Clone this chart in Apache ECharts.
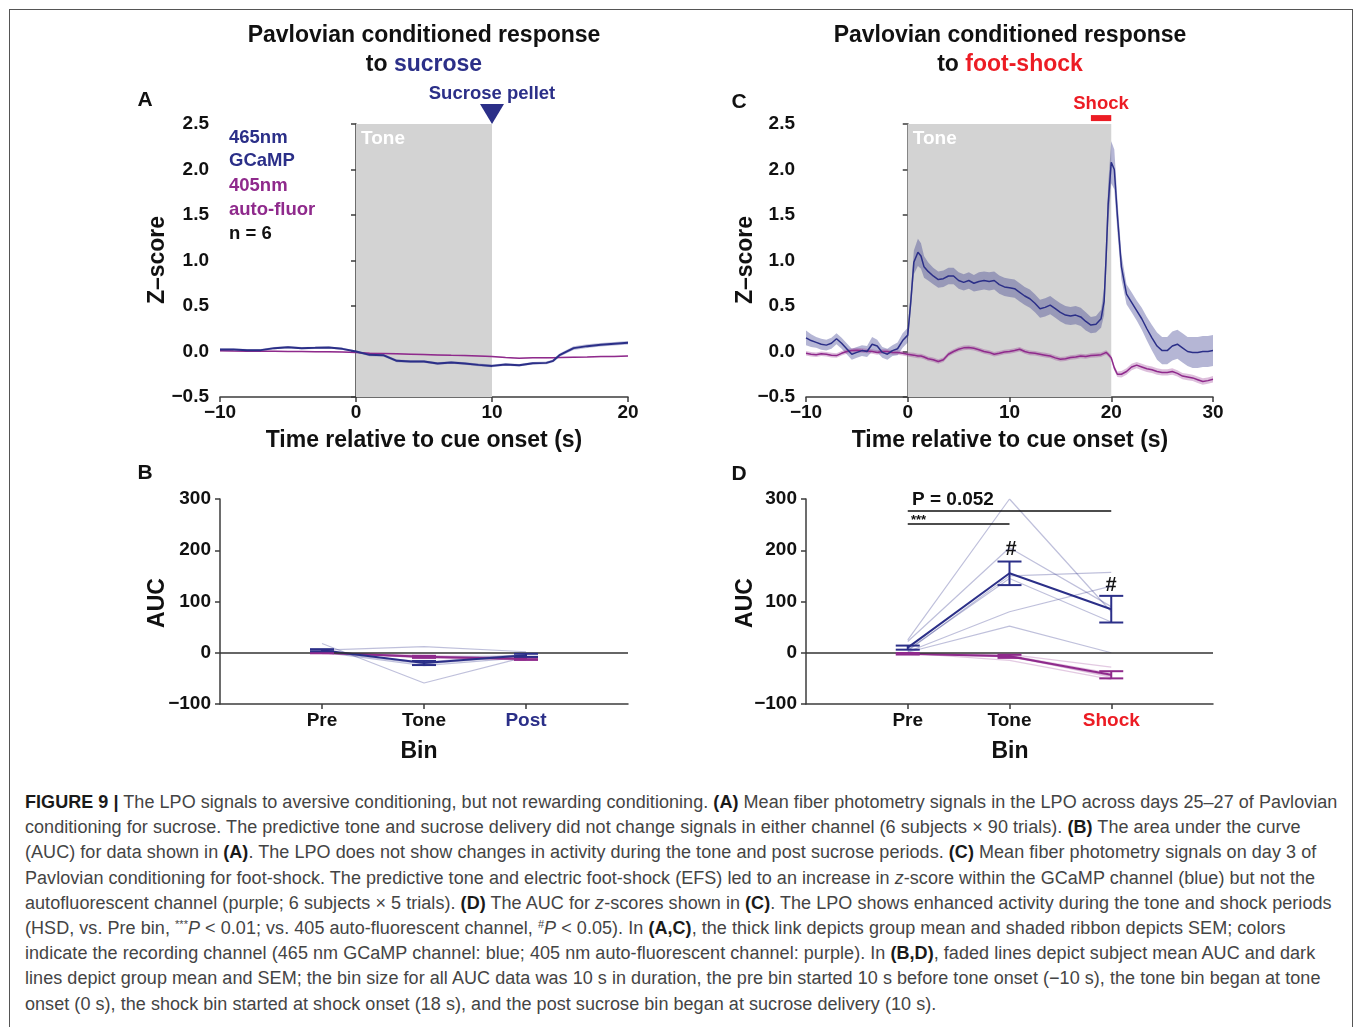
<!DOCTYPE html>
<html>
<head>
<meta charset="utf-8">
<script src="https://cdn.jsdelivr.net/npm/echarts@6/dist/echarts.min.js"></script>
<style>
  html, body { margin: 0; padding: 0; background: #fff; }
  body { width: 1354px; height: 1027px; position: relative; overflow: hidden; }
  #frame { position: absolute; left: 9px; top: 9px; width: 1344px; height: 1100px; border: 1px solid #555; box-sizing: border-box; }
  #chart { position: absolute; left: 0; top: 0; width: 1354px; height: 785px; }
  #caption {
    position: absolute; left: 25px; top: 790px;
    font-family: "Liberation Sans", Arial, sans-serif; font-size: 18px; line-height: 25.2px;
    color: #444; white-space: nowrap; letter-spacing: 0.05px;
  }
  #caption b { color: #1a1a1a; }
  #caption sup { font-size: 11px; line-height: 0; vertical-align: 6px; }
</style>
</head>
<body>
<div id="frame"></div>
<div id="chart"></div>
<div id="caption">
<b>FIGURE 9</b> <b>|</b> The LPO signals to aversive conditioning, but not rewarding conditioning. <b>(A)</b> Mean fiber photometry signals in the LPO across days 25–27 of Pavlovian<br>
conditioning for sucrose. The predictive tone and sucrose delivery did not change signals in either channel (6 subjects × 90 trials). <b>(B)</b> The area under the curve<br>
(AUC) for data shown in <b>(A)</b>. The LPO does not show changes in activity during the tone and post sucrose periods. <b>(C)</b> Mean fiber photometry signals on day 3 of<br>
Pavlovian conditioning for foot-shock. The predictive tone and electric foot-shock (EFS) led to an increase in <i>z</i>-score within the GCaMP channel (blue) but not the<br>
autofluorescent channel (purple; 6 subjects × 5 trials). <b>(D)</b> The AUC for <i>z</i>-scores shown in <b>(C)</b>. The LPO shows enhanced activity during the tone and shock periods<br>
(HSD, vs. Pre bin, <sup>***</sup><i>P</i> &lt; 0.01; vs. 405 auto-fluorescent channel, <sup>#</sup><i>P</i> &lt; 0.05). In <b>(A,C)</b>, the thick link depicts group mean and shaded ribbon depicts SEM; colors<br>
indicate the recording channel (465 nm GCaMP channel: blue; 405 nm auto-fluorescent channel: purple). In <b>(B,D)</b>, faded lines depict subject mean AUC and dark<br>
lines depict group mean and SEM; the bin size for all AUC data was 10 s in duration, the pre bin started 10 s before tone onset (−10 s), the tone bin began at tone<br>
onset (0 s), the shock bin started at shock onset (18 s), and the post sucrose bin began at sucrose delivery (10 s).
</div>
<script>
// ---- panel A: sucrose, z-score traces ----
const timeA = [-10,-9,-8,-7,-6,-5,-4,-3,-2,-1,0,1,2,3,4,5,6,7,8,9,10,11,12,13,14,14.5,15,16,17,18,19,20];
const gcampA = [0.022,0.022,0.015,0.015,0.037,0.048,0.037,0.040,0.044,0.029,0.0,-0.037,-0.040,-0.103,-0.110,-0.110,-0.132,-0.121,-0.132,-0.147,-0.158,-0.143,-0.151,-0.129,-0.125,-0.103,-0.037,0.037,0.059,0.074,0.085,0.096];
const gcampSemA = [0.012,0.012,0.012,0.012,0.012,0.012,0.012,0.012,0.012,0.012,0.012,0.014,0.014,0.014,0.014,0.014,0.014,0.014,0.014,0.014,0.014,0.014,0.014,0.014,0.014,0.016,0.018,0.02,0.02,0.02,0.02,0.02];
const isoA = [0.007,0.005,0.004,0.002,0.002,0,0,-0.002,-0.004,-0.006,-0.01,-0.018,-0.022,-0.026,-0.03,-0.034,-0.038,-0.042,-0.045,-0.05,-0.056,-0.066,-0.074,-0.068,-0.07,-0.068,-0.066,-0.062,-0.06,-0.056,-0.054,-0.05];
const isoSemA = [0.006,0.006,0.006,0.006,0.006,0.006,0.006,0.006,0.006,0.006,0.006,0.006,0.006,0.006,0.006,0.006,0.006,0.006,0.006,0.006,0.006,0.006,0.006,0.006,0.006,0.006,0.006,0.006,0.006,0.006,0.006,0.006];

// ---- panel C: foot-shock, z-score traces ----
const timeC = [-10,-9.5,-9,-8.5,-8,-7.5,-7,-6.5,-6,-5.5,-5,-4.5,-4,-3.5,-3,-2.5,-2,-1.5,-1,-0.5,
  0,0.3,0.6,1,1.3,1.6,
  2,2.5,3,3.5,4,4.5,5,5.5,6,6.5,7,7.5,8,8.5,9,9.5,10,10.5,11,11.5,12,12.5,13,13.5,14,14.5,15,15.5,16,16.5,17,17.5,18,18.5,19,
  19.3,19.5,19.7,20,20.3,20.6,
  21,21.5,22,22.5,23,23.5,24,24.5,25,25.5,26,26.5,27,27.5,28,28.5,29,29.5,30];
const gcampC = [0.15,0.12,0.10,0.08,0.07,0.09,0.14,0.09,0.03,-0.03,-0.01,0.01,0.0,0.08,0.06,-0.01,-0.03,0.01,0.03,0.12,
  0.18,0.55,0.98,1.09,1.05,0.93,
  0.88,0.83,0.79,0.80,0.83,0.83,0.78,0.76,0.78,0.75,0.77,0.78,0.77,0.78,0.735,0.71,0.70,0.69,0.65,0.61,0.58,0.53,0.47,0.485,0.51,0.47,0.43,0.40,0.39,0.40,0.38,0.33,0.29,0.30,0.36,
  0.55,1.05,1.62,2.08,2.0,1.5,
  0.93,0.63,0.54,0.45,0.36,0.25,0.15,0.06,0.01,0.01,0.06,0.08,0.04,0.0,-0.01,-0.01,0.0,0.0,0.01];
const gcampSemC = [0.08,0.07,0.06,0.06,0.06,0.06,0.06,0.06,0.06,0.06,0.06,0.06,0.06,0.08,0.07,0.06,0.06,0.06,0.07,0.08,
  0.08,0.1,0.13,0.15,0.14,0.12,
  0.1,0.09,0.09,0.09,0.09,0.09,0.09,0.09,0.09,0.09,0.1,0.1,0.1,0.1,0.1,0.1,0.1,0.1,0.1,0.1,0.1,0.1,0.1,0.1,0.1,0.1,0.1,0.1,0.1,0.1,0.1,0.1,0.09,0.09,0.1,
  0.15,0.2,0.22,0.23,0.22,0.18,
  0.14,0.11,0.11,0.11,0.12,0.13,0.14,0.15,0.15,0.15,0.16,0.16,0.16,0.16,0.17,0.17,0.17,0.17,0.17];
const isoC = [-0.02,-0.03,-0.035,-0.025,-0.03,-0.04,-0.045,-0.02,0.0,0.01,0.015,0.01,0.005,0.0,-0.01,0.0,0.0,-0.01,-0.01,-0.02,
  -0.03,-0.035,-0.04,-0.05,-0.05,-0.06,
  -0.08,-0.09,-0.11,-0.09,-0.03,0.0,0.025,0.04,0.045,0.035,0.02,0.0,-0.01,-0.03,-0.02,-0.005,0.0,0.01,0.025,0.0,-0.015,-0.02,-0.03,-0.04,-0.05,-0.07,-0.085,-0.08,-0.065,-0.06,-0.05,-0.055,-0.045,-0.04,-0.035,
  -0.02,-0.01,-0.03,-0.07,-0.18,-0.25,
  -0.25,-0.22,-0.17,-0.15,-0.17,-0.19,-0.2,-0.22,-0.23,-0.23,-0.22,-0.24,-0.27,-0.28,-0.29,-0.31,-0.33,-0.32,-0.305];
const isoSemC = [0.025,0.025,0.025,0.025,0.025,0.025,0.025,0.025,0.025,0.025,0.025,0.025,0.025,0.025,0.025,0.025,0.025,0.025,0.025,0.025,
  0.025,0.025,0.025,0.025,0.025,0.025,
  0.025,0.025,0.025,0.025,0.025,0.025,0.025,0.025,0.025,0.025,0.025,0.025,0.025,0.025,0.025,0.025,0.025,0.025,0.025,0.025,0.025,0.025,0.025,0.025,0.025,0.025,0.025,0.025,0.025,0.025,0.025,0.025,0.025,0.025,0.025,
  0.025,0.025,0.025,0.025,0.03,0.03,
  0.035,0.035,0.035,0.035,0.035,0.035,0.035,0.035,0.035,0.035,0.035,0.035,0.035,0.035,0.035,0.035,0.035,0.035,0.035];

// ---- panel B: AUC sucrose ----
const binsB = ['Pre', 'Tone', 'Post'];
const gcampSubjB = [[18,-59,-8],[5,12,2],[2,-22,-6],[1,-25,-9],[2,-18,-3],[2,-8,-6]];
const isoSubjB = [[0,-5,-10],[-2,-8,-14],[1,-10,-12],[0,-6,-15],[-1,-9,-11],[2,-10,-10]];
const gcampMeanB = [5, -20, -5];
const gcampSemB = [2, 4, 3];
const isoMeanB = [0, -8, -12];
const isoSemB = [1, 2, 2];

// ---- panel D: AUC foot-shock ----
const binsD = ['Pre', 'Tone', 'Shock'];
const gcampSubjD = [[25,300,80],[22,205,90],[4,150,157],[6,145,60],[2,80,130],[1,52,0]];
const isoSubjD = [[-1,-3,-28],[-2,-5,-40],[-3,-8,-45],[-2,-6,-48],[-1,-15,-52],[-3,-5,-45]];
const gcampMeanD = [10, 155, 85];
const gcampSemD = [4, 23, 26];
const isoMeanD = [-2, -7, -43];
const isoSemD = [1.5, 3, 7];

const zTicks = [-0.5, 2.5, 0.5];   // min, max, step
const aucTicks = [-100, 300, 100];

const F = '"Liberation Sans", Arial, Helvetica, sans-serif';
const BLUE = '#2b2f88';
const PURPLE = '#8f2a8c';
const RED = '#ec1c24';
const AX = '#3d3d3d';

function minus(s) { return String(s).replace('-', '\u2212'); }
function pairs(t, v) { return t.map((x, i) => [x, v[i]]); }

function timeAxis(gi, max) {
  return {
    gridIndex: gi, type: 'value', min: -10, max: max, interval: 10,
    axisLine: { show: true, onZero: false, lineStyle: { color: AX, width: 1.5 } },
    axisTick: { show: true, length: 5, lineStyle: { color: AX, width: 1.5 } },
    axisLabel: { color: '#111', fontFamily: F, fontWeight: 'bold', fontSize: 19, margin: 6, formatter: v => minus(v) },
    splitLine: { show: false }
  };
}
function zAxis(gi) {
  return {
    gridIndex: gi, type: 'value', min: zTicks[0], max: zTicks[1], interval: zTicks[2],
    axisLine: { show: true, lineStyle: { color: AX, width: 1.5 } },
    axisTick: { show: true, length: 5, lineStyle: { color: AX, width: 1.5 } },
    axisLabel: { color: '#111', fontFamily: F, fontWeight: 'bold', fontSize: 19, margin: 11, formatter: v => minus(v.toFixed(1)) },
    splitLine: { show: false }
  };
}
function binAxis(gi, bins, colors) {
  return {
    gridIndex: gi, type: 'category', boundaryGap: false, data: [''].concat(bins, ['']),
    axisLine: { show: true, onZero: false, lineStyle: { color: AX, width: 1.5 } },
    axisTick: { show: true, length: 5, interval: (i, v) => v !== '', lineStyle: { color: AX, width: 1.5 } },
    axisLabel: { interval: 0, fontFamily: F, fontWeight: 'bold', fontSize: 19, margin: 7,
      color: (v) => colors[v] || '#111' },
    splitLine: { show: false }
  };
}
function aucAxis(gi) {
  return {
    gridIndex: gi, type: 'value', min: aucTicks[0], max: aucTicks[1], interval: aucTicks[2],
    axisLine: { show: true, lineStyle: { color: AX, width: 1.5 } },
    axisTick: { show: true, length: 5, lineStyle: { color: AX, width: 1.5 } },
    axisLabel: { color: '#111', fontFamily: F, fontWeight: 'bold', fontSize: 19, margin: 9, formatter: v => minus(v) },
    splitLine: { show: false }
  };
}

// shaded SEM ribbon drawn as one polygon through the axis scales
function band(ai, t, mean, sem, color) {
  return {
    type: 'custom', xAxisIndex: ai, yAxisIndex: ai, z: 2, silent: true, clip: true,
    encode: { x: 0, y: [1, 2] },
    data: t.map((x, i) => [x, mean[i] - sem[i], mean[i] + sem[i]]),
    renderItem: function (params, api) {
      if (params.dataIndex !== 0) return null;
      const up = [], lo = [];
      for (let i = 0; i < t.length; i++) {
        up.push(api.coord([t[i], mean[i] + sem[i]]));
        lo.push(api.coord([t[i], mean[i] - sem[i]]));
      }
      return { type: 'polygon', shape: { points: up.concat(lo.reverse()) }, style: { fill: color } };
    }
  };
}
function trace(ai, t, v, color, w, extra) {
  return Object.assign({
    type: 'line', xAxisIndex: ai, yAxisIndex: ai, z: 3, silent: true, symbol: 'none',
    data: pairs(t, v), lineStyle: { color: color, width: w }
  }, extra || {});
}
function subjLines(ai, subj, color) {
  return subj.map(s => ({
    type: 'line', xAxisIndex: ai, yAxisIndex: ai, z: 2, silent: true, symbol: 'none',
    data: s.map((v, i) => [i + 1, v]), lineStyle: { color: color, width: 1.2 }
  }));
}
function meanLine(ai, mean, color) {
  return {
    type: 'line', xAxisIndex: ai, yAxisIndex: ai, z: 4, silent: true, symbol: 'none',
    data: mean.map((v, i) => [i + 1, v]), lineStyle: { color: color, width: 2 }
  };
}
function errBars(ai, mean, sem, color) {
  return {
    type: 'custom', xAxisIndex: ai, yAxisIndex: ai, z: 5, silent: true,
    encode: { x: 0, y: [1, 2] },
    data: mean.map((m, i) => [i + 1, m - sem[i], m + sem[i]]),
    renderItem: function (params, api) {
      const lo = api.coord([api.value(0), api.value(1)]);
      const hi = api.coord([api.value(0), api.value(2)]);
      const h = 12, st = { stroke: color, lineWidth: 2 };
      return { type: 'group', children: [
        { type: 'line', shape: { x1: lo[0], y1: lo[1], x2: hi[0], y2: hi[1] }, style: st },
        { type: 'line', shape: { x1: lo[0] - h, y1: lo[1], x2: lo[0] + h, y2: lo[1] }, style: st },
        { type: 'line', shape: { x1: hi[0] - h, y1: hi[1], x2: hi[0] + h, y2: hi[1] }, style: st }
      ] };
    }
  };
}

const toneArea = (end) => ({
  silent: true,
  itemStyle: { color: '#d3d3d3' },
  label: { show: true, position: 'insideTopLeft', distance: 5, color: '#fff', fontFamily: F, fontWeight: 'bold', fontSize: 19 },
  data: [[{ xAxis: 0, name: 'Tone' }, { xAxis: end }]]
});
const zeroLine = {
  silent: true, symbol: ['none', 'none'], label: { show: false },
  lineStyle: { color: '#333', width: 1.5, type: 'solid' },
  data: [{ yAxis: 0 }]
};

function txt(x, y, text, size, color, align) {
  return {
    type: 'text', x: x, y: y, silent: true,
    style: { text: text, fontFamily: F, fontWeight: 'bold', fontSize: size, fill: color || '#111',
      align: align || 'center', verticalAlign: 'middle' }
  };
}
function vtxt(x, y, text) {
  return Object.assign(txt(x, y, text, 23, '#111'), { rotation: Math.PI / 2 });
}
function titleTo(x, y, word, color) {
  return {
    type: 'text', x: x, y: y, silent: true,
    style: { text: '{k|to }{c|' + word + '}', align: 'center', verticalAlign: 'middle',
      rich: { k: { fontFamily: F, fontWeight: 'bold', fontSize: 23, fill: '#111' },
              c: { fontFamily: F, fontWeight: 'bold', fontSize: 23, fill: color } } }
  };
}

const chart = echarts.init(document.getElementById('chart'));

const option = {
  animation: false,
  grid: [
    { left: 220, top: 124, width: 408, height: 273 },
    { left: 806, top: 124, width: 407, height: 273 },
    { left: 220, top: 499, width: 408, height: 205 },
    { left: 806, top: 499, width: 407, height: 205 }
  ],
  xAxis: [timeAxis(0, 20), timeAxis(1, 30), binAxis(2, binsB, { Post: BLUE }), binAxis(3, binsD, { Shock: RED })],
  yAxis: [zAxis(0), zAxis(1), aucAxis(2), aucAxis(3)],
  series: [
    // A
    band(0, timeA, gcampA, gcampSemA, 'rgba(43,47,136,0.3)'),
    band(0, timeA, isoA, isoSemA, 'rgba(143,42,140,0.25)'),
    trace(0, timeA, isoA, PURPLE, 1.5),
    trace(0, timeA, gcampA, BLUE, 2, {
      markArea: toneArea(10),
      markPoint: {
        silent: true, symbol: 'path://M0,0L20,0L10,18Z', symbolSize: [24, 20], symbolOffset: [0, '-50%'],
        itemStyle: { color: BLUE }, label: { show: false }, data: [{ coord: [10, 2.5] }]
      }
    }),
    // C
    band(1, timeC, gcampC, gcampSemC, 'rgba(43,47,136,0.35)'),
    band(1, timeC, isoC, isoSemC, 'rgba(143,42,140,0.3)'),
    trace(1, timeC, isoC, PURPLE, 1.5),
    trace(1, timeC, gcampC, BLUE, 1.5, { markArea: toneArea(20) }),
    { type: 'line', xAxisIndex: 1, yAxisIndex: 1, clip: false, silent: true, symbol: 'none', z: 6,
      data: [[18, 2.565], [20, 2.565]], lineStyle: { color: RED, width: 6 } },
    // B
    ...subjLines(2, gcampSubjB, 'rgba(43,47,136,0.3)'),
    ...subjLines(2, isoSubjB, 'rgba(143,42,140,0.25)'),
    Object.assign(meanLine(2, isoMeanB, PURPLE), { markLine: zeroLine }),
    meanLine(2, gcampMeanB, BLUE),
    errBars(2, isoMeanB, isoSemB, PURPLE),
    errBars(2, gcampMeanB, gcampSemB, BLUE),
    // D
    ...subjLines(3, gcampSubjD, 'rgba(43,47,136,0.3)'),
    ...subjLines(3, isoSubjD, 'rgba(143,42,140,0.25)'),
    Object.assign(meanLine(3, isoMeanD, PURPLE), { markLine: zeroLine }),
    Object.assign(meanLine(3, gcampMeanD, BLUE), {
      markLine: {
        silent: true, symbol: ['none', 'none'], label: { show: false },
        lineStyle: { color: '#111', width: 1.5, type: 'solid' },
        data: [[{ coord: [1, 277] }, { coord: [3, 277] }], [{ coord: [1, 252] }, { coord: [2, 252] }]]
      }
    }),
    errBars(3, isoMeanD, isoSemD, PURPLE),
    errBars(3, gcampMeanD, gcampSemD, BLUE)
  ],
  graphic: [
    txt(424, 36, 'Pavlovian conditioned response', 23),
    titleTo(424, 65, 'sucrose', BLUE),
    txt(1010, 36, 'Pavlovian conditioned response', 23),
    titleTo(1010, 65, 'foot-shock', RED),
    txt(145, 100, 'A', 21), txt(145, 473, 'B', 21), txt(739, 102, 'C', 21), txt(739, 474, 'D', 21),
    txt(492, 94, 'Sucrose pellet', 18.5, BLUE),
    txt(1101, 104, 'Shock', 18.5, RED),
    txt(229, 138, '465nm', 18.5, BLUE, 'left'),
    txt(229, 161, 'GCaMP', 18.5, BLUE, 'left'),
    txt(229, 186, '405nm', 18.5, PURPLE, 'left'),
    txt(229, 210, 'auto-fluor', 18.5, PURPLE, 'left'),
    txt(229, 234, 'n = 6', 18.5, '#111', 'left'),
    vtxt(158, 260, 'Z\u2013score'), vtxt(746, 260, 'Z\u2013score'),
    vtxt(158, 603, 'AUC'), vtxt(746, 603, 'AUC'),
    txt(424, 441, 'Time relative to cue onset (s)', 23), txt(1010, 441, 'Time relative to cue onset (s)', 23),
    txt(419, 752, 'Bin', 23), txt(1010, 752, 'Bin', 23),
    txt(912, 500, 'P = 0.052', 19, '#111', 'left'),
    txt(911, 520, '***', 13, '#111', 'left'),
    txt(1011, 549, '#', 20), txt(1111, 585, '#', 20)
  ]
};

chart.setOption(option);
</script>
</body>
</html>
